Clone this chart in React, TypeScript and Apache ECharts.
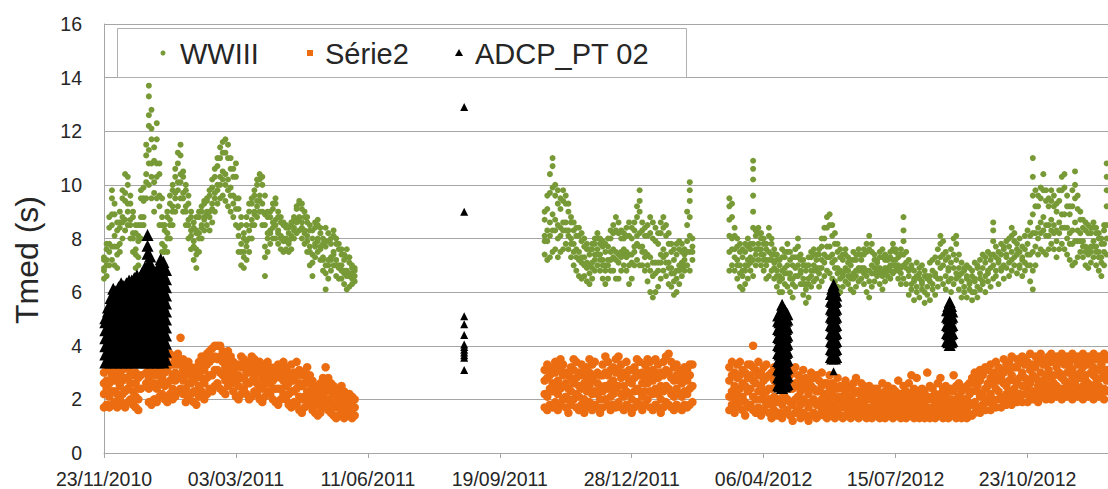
import React, { useEffect, useRef } from "react";
import * as echarts from "echarts";

// x values are days counted from 23/11/2010
const startDateUTC = Date.UTC(2010, 10, 23);
const xMin = 0;
const xMax = 761;
const xInterval = 100;
const yMin = 0;
const yMax = 16;
const yInterval = 2;
const seriesNames = ["WWIII", "Série2", "ADCP_PT 02"];
const yAxisTitle = "Tmed (s)";

// rows: [day, value, value, ...]
const wwiiiSeg1: number[][] = [
  [0,6.5,6.8,6.9,7.2,7.3],[2,6.6,7.0,7.2,7.6,7.8],[4,7.0,7.5,7.8,8.4,8.8],[6,7.2,7.7,8.5,8.9,9.5,9.8],
  [8,7.0,7.7,8.1,8.9,9.3],[10,6.9,7.4,7.7,8.3,8.6],[12,7.5,7.8,8.4,8.6,9.0],[14,8.0,8.6,8.8,9.5,9.8],
  [16,8.3,8.7,9.4,9.7,10.4],[18,8.5,9.0,9.3,10.0,10.3],[20,8.0,8.5,8.7,9.3,9.6],[22,7.5,8.0,8.2,8.8,9.0],
  [24,6.9,7.4,7.6,8.2,8.5],[26,7.0,7.3,7.9,8.1,8.5],[28,8.0,8.5,8.8,9.5,9.8],[30,8.5,8.8,9.4,9.5,9.9],
  [32,9.5,10.1,10.4,11.1,11.5],[34,10.0,10.8,11.3,12.2,12.6,13.3,13.7],[36,9.5,10.3,10.8,11.7,12.1,12.8],
  [38,9.0,9.7,10.1,10.9,11.4],[40,9.5,10.3,10.8,11.7,12.3],[42,8.5,9.2,9.6,10.4,10.8],[44,6.9,7.5,7.8,8.5,8.8,9.5],
  [46,7.0,7.5,7.7,8.3,8.5],[48,7.5,8.0,8.2,8.8,9.0],[50,8.0,8.5,8.7,9.3,9.6],[52,8.5,9.0,9.2,9.8,10.0],
  [54,9.0,9.5,9.7,10.3,10.6],[56,9.2,9.8,10.1,10.8,11.2],[58,9.5,10.1,10.4,11.1,11.5],[60,9.0,9.5,9.7,10.3,10.5],
  [62,8.5,9.0,9.2,9.8,10.0],[64,8.0,8.5,8.7,9.3,9.6],[66,7.6,8.1,8.3,8.8,9.0],[68,7.2,7.7,7.9,8.4,8.6],
  [70,6.9,7.4,7.6,8.2,8.3,8.8],[72,7.5,8.0,8.2,8.8,9.0],[74,8.0,8.4,8.5,9.0,9.2],[76,8.3,8.7,8.8,9.3,9.4],
  [78,8.5,8.9,9.0,9.4,9.5],[80,8.3,8.8,9.0,9.6,9.8],[82,8.6,9.1,9.3,9.9,10.2],[84,9.0,9.5,9.7,10.3,10.6],
  [86,9.3,9.8,10.0,10.7,11.0],[88,9.5,10.0,10.3,11.0,11.4],[90,9.6,10.2,10.5,11.2,11.6],[92,9.4,10.0,10.4,11.2,11.7],
  [94,9.2,9.8,10.2,11.0,11.5],[96,9.0,9.6,9.9,10.6,11.0],[98,8.8,9.3,9.6,10.3,10.6],[100,8.5,9.1,9.5,10.3,10.8],
  [102,7.5,8.1,8.4,9.1,9.5],[104,7.0,7.5,7.8,8.5,8.8],[106,6.9,7.3,7.5,8.0,8.2],[108,7.2,7.7,7.9,8.5,8.8],
  [110,7.5,8.0,8.3,9.0,9.3],[112,8.0,8.5,8.7,9.3,9.5],[114,8.5,8.9,9.0,9.6,9.8],[116,8.8,9.2,9.4,10.0,10.2],
  [118,9.0,9.4,9.6,10.2,10.4],[120,8.5,9.0,9.3,10.0,10.3],[122,6.6,7.3,7.7,8.5,8.9,9.6],[124,7.5,8.0,8.2,8.8,9.0],
  [126,7.8,8.2,8.3,8.8,9.0],[128,8.0,8.4,8.6,9.1,9.3],[130,8.0,8.5,8.7,9.3,9.5],[132,7.8,8.2,8.3,8.8,9.0],
  [134,7.6,8.0,8.1,8.6,8.8],[136,7.5,7.9,8.0,8.5,8.6],[138,7.6,7.9,8.0,8.4,8.5],[140,7.5,7.8,7.9,8.2,8.4],
  [142,7.6,8.0,8.1,8.5,8.6],[144,8.0,8.3,8.4,8.7,8.8],[146,8.2,8.6,8.7,9.1,9.2],[148,8.3,8.7,8.8,9.3,9.4],
  [150,8.0,8.4,8.6,9.1,9.3],[152,7.8,8.2,8.3,8.8,9.0],[154,7.5,7.9,8.1,8.6,8.8],[156,7.0,7.5,7.7,8.3,8.5],
  [158,6.6,7.1,7.4,8.0,8.3],[160,7.3,7.7,7.8,8.4,8.6],[162,7.5,7.9,8.0,8.5,8.7],[164,7.2,7.6,7.7,8.2,8.4],
  [166,6.8,7.2,7.3,7.8,8.0],[168,6.1,6.7,7.0,7.7,7.9,8.4],[170,6.5,7.0,7.2,7.9,8.2],[172,6.8,7.2,7.3,7.8,8.0],
  [174,7.0,7.4,7.5,8.1,8.3],[176,6.6,7.0,7.2,7.8,8.0],[178,6.5,6.9,7.0,7.6,7.8],[180,6.5,6.8,7.0,7.4,7.6],
  [182,6.3,6.7,6.8,7.2,7.4],[184,6.1,6.6,6.8,7.3,7.6],[186,6.2,6.6,6.7,7.1,7.3],[188,6.3,6.5,6.7,6.9,7.0],
  [190,6.4,6.6,6.8,6.9],
];
const wwiiiSeg2: number[][] = [
  [334,7.4,7.9,8.1,8.7,9.0],[336,7.2,7.9,8.3,9.1,9.6],[338,7.3,8.1,8.6,9.7,10.4],[340,7.5,8.3,8.9,9.9,10.7,11.0],
  [342,7.6,8.3,8.7,9.6,10.0],[344,7.3,8.0,8.5,9.3,9.8],[346,7.5,8.1,8.4,9.1,9.5],[348,7.6,8.3,8.6,9.4,9.8],
  [350,7.8,8.3,8.6,9.3,9.6],[352,7.6,8.1,8.3,9.0,9.3],[354,7.3,7.8,8.0,8.6,8.8],[356,7.0,7.5,7.8,8.3,8.6],
  [358,6.8,7.3,7.6,8.1,8.4],[360,6.6,7.2,7.5,8.1,8.4],[362,6.5,7.1,7.3,7.9,8.2],[364,6.6,7.0,7.3,7.7,8.0],
  [366,6.4,6.9,7.1,7.6,7.8],[368,6.3,6.7,7.0,7.4,7.6],[370,6.5,6.9,7.1,7.6,7.8],[372,6.8,7.2,7.4,7.8,8.0],
  [374,7.0,7.4,7.6,8.0,8.2],[376,6.8,7.2,7.4,7.8,8.0],[378,6.5,7.0,7.2,7.7,7.9],[380,6.3,6.8,7.0,7.5,7.8],
  [382,6.5,7.0,7.2,7.7,8.0],[384,6.8,7.2,7.5,8.0,8.3],[386,6.8,7.3,7.6,8.2,8.5],[388,6.5,7.2,7.5,8.3,8.8],
  [390,6.5,7.1,7.4,8.2,8.6],[392,6.8,7.3,7.5,8.0,8.3],[394,7.0,7.4,7.6,8.0,8.2],[396,6.8,7.3,7.5,8.1,8.4],
  [398,6.3,7.0,7.4,8.1,8.6],[400,6.5,7.1,7.4,8.0,8.4],[402,7.0,7.5,7.7,8.3,8.6],[404,7.2,7.8,8.1,8.8,9.2],
  [406,7.0,7.7,8.2,9.0,9.4,9.8],[408,7.0,7.5,7.7,8.3,8.6],[410,6.8,7.3,7.5,8.1,8.4],[412,6.4,7.0,7.4,8.1,8.5],
  [414,6.0,6.8,7.3,8.2,8.8],[416,5.8,6.6,7.1,8.0,8.6],[418,6.0,6.7,7.1,7.9,8.4],[420,6.2,6.8,7.1,7.8,8.2],
  [422,6.5,7.1,7.4,8.2,8.6],[424,6.8,7.3,7.6,8.4,8.8],[426,6.6,7.1,7.4,8.1,8.5],[428,6.3,6.9,7.1,7.8,8.2],
  [430,6.2,6.7,6.9,7.5,7.8],[432,5.9,6.4,6.7,7.2,7.6],[434,6.0,6.5,6.8,7.4,7.8],[436,6.3,6.8,7.0,7.6,7.9],
  [438,6.6,6.9,7.1,7.5,7.8],[440,6.8,7.0,7.2,7.4,7.6],[442,7.0,7.5,7.9,8.5,9.0],[444,6.8,7.5,8.1,8.8,9.4,9.8,10.1],
  [446,7.2,7.5,7.7,8.0],
];
const wwiiiSeg3: number[][] = [
  [474,6.8,7.5,8.1,8.7,9.2,9.5],[476,7.0,7.6,8.0,8.8,9.3],[478,6.8,7.3,7.6,8.1,8.4],[480,6.5,7.0,7.2,7.7,8.0],
  [482,6.2,6.7,7.0,7.5,7.8],[484,6.1,6.6,6.8,7.3,7.6],[486,6.3,6.8,7.0,7.5,7.8],[488,6.5,7.0,7.2,7.7,8.0],
  [490,6.8,7.1,7.3,7.6,7.8],[492,6.6,7.2,7.8,8.4,9.0,9.6,10.2,10.6,10.9],[494,7.0,7.4,7.6,8.1,8.3],
  [496,7.2,7.6,7.8,8.2,8.4],[498,7.0,7.4,7.6,8.0,8.2],[500,6.8,7.2,7.4,7.8,8.0],[502,6.5,7.0,7.2,7.6,7.8],
  [504,6.6,7.2,7.5,8.1,8.4],[506,6.8,7.2,7.4,7.8,8.0],[508,6.5,6.9,7.1,7.4,7.6],[510,6.2,6.6,6.8,7.2,7.4],
  [512,6.0,6.4,6.6,7.0,7.2],[514,6.0,6.5,6.8,7.3,7.6],[516,6.3,6.7,6.9,7.3,7.5],[518,6.2,6.7,7.0,7.5,7.8],
  [520,6.0,6.5,6.7,7.2,7.5],[522,5.8,6.3,6.5,7.0,7.3],[524,6.2,6.6,6.9,7.3,7.6],[526,6.6,7.0,7.3,7.7,8.0],
  [528,6.3,6.7,6.8,7.2,7.4],[530,5.9,6.3,6.5,7.0,7.2],[532,5.6,6.1,6.3,6.8,7.0],[534,5.8,6.3,6.5,7.0,7.3],
  [536,6.2,6.6,6.8,7.3,7.5],[538,6.4,6.8,7.0,7.4,7.6],[540,6.5,6.8,6.9,7.2,7.4],[542,6.2,6.7,6.9,7.4,7.6],
  [544,6.4,6.9,7.2,7.7,8.0],[546,6.6,7.1,7.4,8.0,8.4],[548,6.8,7.3,7.7,8.4,8.8],[550,6.7,7.3,7.7,8.5,8.9],
  [552,6.5,7.1,7.4,8.1,8.5],[554,6.4,6.9,7.2,7.8,8.2],[556,6.2,6.7,6.9,7.5,7.8],[558,6.0,6.5,6.8,7.3,7.6],
  [560,6.2,6.6,6.7,7.2,7.4],[562,6.4,6.8,6.9,7.4,7.6],[564,6.3,6.6,6.8,7.1,7.3],[566,6.1,6.5,6.6,7.0,7.2],
  [568,6.0,6.5,6.7,7.2,7.5],[570,6.2,6.6,6.8,7.2,7.4],[572,6.4,6.8,6.9,7.4,7.6],[574,6.5,6.8,6.9,7.2,7.4],
  [576,6.3,6.7,6.9,7.4,7.6],[578,6.0,6.6,6.8,7.5,7.8],[580,5.8,6.4,6.8,7.6,8.1],[582,6.2,6.7,7.0,7.5,7.8],
  [584,6.4,6.7,6.9,7.2,7.4],[586,6.6,6.8,6.9,7.1,7.2],[588,6.3,6.7,6.9,7.3,7.5],[590,6.1,6.6,6.8,7.3,7.6],
  [592,6.4,6.7,6.9,7.2,7.4],[594,6.6,6.8,6.9,7.2,7.3],[596,6.5,6.8,7.0,7.3,7.5],[598,6.7,7.0,7.2,7.6,7.8],
  [600,6.8,7.0,7.2,7.5,7.6],[602,6.5,6.8,7.0,7.3,7.4],[604,6.3,6.7,6.9,7.4,7.6],[606,6.5,7.0,7.4,7.9,8.3,8.8],
  [608,6.3,6.9,7.1,7.5],[610,5.9,6.6,6.8,7.2],[612,6.1,6.3,6.9,7.0],[614,5.7,6.4,6.5,6.8],
  [616,6.0,6.2,6.6,7.1],[618,5.8,6.5,6.7,6.9],[620,6.1,6.3,6.4,7.0],[622,5.6,6.0,6.6,6.8],
  [624,5.9,6.2,6.5,6.6],[626,5.7,6.4,6.6,7.1],[628,6.1,6.3,6.8,7.2],[630,5.9,6.6,6.7,7.3],
  [632,6.2,6.5,7.1,7.6],[634,6.5,6.9,7.3,7.8,8.1],[636,6.3,7.0,7.4,7.9],[638,6.1,6.6,7.2,7.5],
  [640,6.4,6.8,6.9,7.3],[642,6.0,6.5,7.1,7.6],[644,6.3,6.9,7.4,8.0],[646,6.5,6.7,7.2,7.8,8.1],
  [648,6.1,6.6,6.9,7.4],[650,5.8,6.4,6.7,7.1],[652,6.0,6.2,6.8,6.9],[654,5.8,6.5,6.6,7.0],
  [656,6.1,6.3,6.4,6.9],[658,5.7,6.0,6.6,6.8],[660,6.0,6.4,6.5,7.1],[662,5.8,6.2,6.9,7.0],
  [664,6.1,6.5,6.7,7.2],[666,6.3,6.4,6.9,7.4],[668,6.0,6.6,7.1,7.3],[670,6.4,6.7,6.8,7.5],
  [672,6.2,6.9,7.2,7.4],[674,6.5,7.0,7.4,7.9,8.3,8.6],[676,6.6,6.8,7.3,7.7],[678,6.3,7.1,7.2,7.5],
  [680,6.8,6.9,7.4,7.8],[682,6.5,7.0,7.6,7.7],[684,6.9,7.3,7.4,7.9],[686,6.6,7.1,7.7,8.0],
  [688,6.8,7.2,7.5,8.1,8.4],[690,7.0,7.3,7.9,8.2],[692,6.7,7.4,7.6,7.8],[694,6.9,7.0,7.5,8.0],
  [696,6.6,7.2,7.3,7.7],[698,6.8,7.1,7.6,8.1],[700,7.0,7.4,7.8,8.3],[702,6.4,7.0,7.4,8.1,8.6],
  [704,6.1,6.8,7.5,8.2,8.9,9.6,10.3,11.0],[706,7.0,7.7,8.2,9.2,9.8],[708,7.4,8.0,8.4,9.2,9.6],[710,7.6,8.2,8.6,9.5,9.9],
  [712,7.5,8.3,8.8,9.8,10.4],[714,7.4,8.1,8.5,9.4,9.8],[716,7.6,8.1,8.5,9.2,9.5],[718,7.8,8.3,8.7,9.4,9.8],
  [720,7.6,8.2,8.5,9.2,9.6],[722,7.3,7.9,8.3,9.0,9.3],[724,7.6,8.2,8.6,9.4,9.8],[726,7.8,8.4,8.9,9.8,10.3],
  [728,7.6,8.4,8.9,9.9,10.4],[730,7.4,8.0,8.4,9.2,9.6],[732,7.2,7.8,8.2,8.9,9.2],[734,7.0,7.8,8.3,9.2,9.8],
  [736,7.1,7.9,8.6,9.5,10.0,10.5],[738,7.3,7.9,8.3,9.1,9.6],[740,7.5,7.9,8.2,8.7,9.0],[742,7.3,7.7,7.9,8.4,8.7],
  [744,7.0,7.5,7.7,8.3,8.6],[746,6.9,7.4,7.6,8.2,8.5],[748,7.1,7.5,7.7,8.2,8.4],[750,7.3,7.7,7.9,8.4,8.6],
  [752,7.0,7.5,7.7,8.2,8.4],[754,6.8,7.3,7.5,8.0,8.2],[756,6.6,7.1,7.3,7.8,8.0],[758,7.0,7.5,7.8,8.3,8.5],
  [760,7.4,8.0,8.5,9.2,9.8,10.3,10.8],[762,7.5,8.1,8.7,9.6,10.4,11.4],
];

const serie2Seg1: number[][] = [
  [0,1.7,2.2,2.6,3.0],[2,1.8,2.4,2.7,3.2],[4,1.7,2.1,2.6,3.1],[6,1.8,2.3,2.9,3.3],[8,1.9,2.3,2.7,3.0],
  [10,1.7,2.2,2.8,3.2],[12,2.0,2.5,2.9,3.3],[14,1.8,2.2,2.7,3.1],[16,1.7,2.3,2.8,3.3],[18,1.9,2.4,2.8,3.2],
  [20,2.0,2.6,3.0,3.4],[22,1.8,2.3,2.9,3.3],[24,1.7,2.1,2.6,3.0],[26,1.6,2.0,2.4,2.8],[28,2.4,2.9],[32,2.6,3.0],
  [34,1.9,2.4,2.8,3.2],[36,1.8,2.5,2.9,3.4],[38,2.0,2.6,3.1,3.5],[40,1.9,2.4,2.9,3.3],[42,2.1,2.6,3.1,3.5],
  [44,2.2,2.8,3.2,3.6],[46,2.0,2.5,3.0,3.4],[48,1.9,2.6,3.1,3.6],[50,2.2,2.7,3.3,3.7],[52,2.0,2.4,2.9,3.3],
  [54,2.1,2.7,3.0,3.5],[56,2.3,2.8,3.3,3.7],[58,2.4,2.9,3.4,4.3],[60,2.2,2.7,3.1,3.5],[62,1.9,2.4,2.9,3.3],
  [64,2.0,2.6,3.0,3.4],[66,2.2,2.6,2.9,3.2],[68,1.9,2.3,2.7,3.0],[70,1.8,2.3,2.8,3.2],[72,2.1,2.5,3.0,3.4],
  [74,2.3,2.8,3.2,3.6],[76,2.0,2.6,3.1,3.5],[78,2.2,2.8,3.3,3.7],[80,2.4,2.9,3.4,3.8],[82,2.3,2.9,3.5,3.9],
  [84,2.5,3.1,3.6,4.0],[86,2.6,3.1,3.5,4.0],[88,2.4,3.0,3.6,4.0],[90,2.3,2.9,3.4,3.8],[92,2.2,2.7,3.2,3.6],
  [94,2.5,3.0,3.4,3.8],[96,2.6,2.9,3.3,3.6],[98,2.3,2.7,3.1,3.4],[100,2.1,2.6,2.9,3.2],[102,2.0,2.5,2.9,3.3],
  [104,2.2,2.8,3.2,3.6],[106,2.4,2.8,3.2,3.5],[108,2.2,2.6,3.0,3.3],[110,2.0,2.6,3.0,3.4],[112,2.1,2.7,3.2,3.6],
  [114,2.3,2.8,3.1,3.5],[116,2.2,2.6,3.0,3.3],[118,2.0,2.5,3.0,3.4],[120,1.9,2.4,2.8,3.2],[122,2.1,2.6,2.9,3.3],
  [124,2.3,2.7,3.1,3.4],[126,2.2,2.6,2.9,3.2],[128,2.0,2.4,2.7,3.0],[130,1.9,2.4,2.8,3.2],[132,1.8,2.4,2.9,3.3],
  [134,2.0,2.4,2.8,3.1],[136,2.2,2.7,3.0,3.4],[138,2.0,2.5,2.8,3.2],[140,1.8,2.2,2.6,3.0],[142,1.7,2.3,2.8,3.3],
  [144,1.9,2.3,2.7,3.0],[146,1.8,2.4,2.9,3.4],[148,1.6,2.1,2.6,3.1],[150,1.5,2.0,2.5,2.9],[152,1.7,2.1,2.6,3.0],
  [154,1.9,2.3,2.8,3.2],[156,1.8,2.2,2.6,2.9],[158,1.6,2.0,2.4,2.7],[160,1.5,1.9,2.2,2.5],[162,1.4,1.8,2.1,2.4],
  [164,1.5,1.9,2.3,2.6],[166,1.7,2.1,2.5,2.8],[168,1.8,2.3,2.7,3.2],[170,1.6,2.0,2.4,2.8],[172,1.5,1.9,2.3,2.6],
  [174,1.4,1.8,2.2,2.5],[176,1.3,1.7,2.1,2.4],[178,1.4,1.7,2.0,2.3],[180,1.5,1.8,2.2,2.5],[182,1.3,1.7,2.0,2.3],
  [184,1.4,1.7,2.0,2.2],[186,1.5,1.8,2.0,2.2],[188,1.3,1.6,1.9,2.1],[190,1.4,1.7,2.0],
];
const serie2Seg2: number[][] = [
  [334,1.7,2.2,2.7,3.1],[336,1.6,2.1,2.8,3.3],[338,1.8,2.4,2.9,3.2],[340,1.7,2.3,2.6,3.0],[342,1.9,2.5,3.0,3.4],
  [344,1.6,2.2,2.7,3.2],[346,1.8,2.4,3.1,3.5],[348,2.0,2.5,2.9,3.3],[350,1.7,2.1,2.6,3.0],[352,1.5,2.0,2.4,2.9],
  [354,1.8,2.3,2.8,3.2],[356,2.0,2.6,3.1,3.5],[358,1.7,2.2,2.8,3.4],[360,1.6,2.1,2.5,3.0],[362,1.8,2.4,2.9,3.3],
  [364,1.5,2.0,2.6,3.1],[366,1.7,2.3,2.8,3.2],[368,1.9,2.5,3.0,3.5],[370,1.6,2.2,2.7,3.3],[372,1.8,2.3,2.9,3.4],
  [374,1.7,2.2,2.6,3.0],[376,1.5,2.0,2.5,2.9],[378,1.7,2.3,2.9,3.3],[380,2.0,2.5,3.0,3.6],[382,1.8,2.4,2.9,3.4],
  [384,1.6,2.1,2.6,3.1],[386,1.8,2.2,2.7,3.2],[388,1.7,2.4,3.0,3.5],[390,1.9,2.5,3.1,3.6],[392,1.7,2.2,2.8,3.3],
  [394,1.6,2.1,2.5,3.0],[396,1.8,2.3,2.9,3.4],[398,1.7,2.2,2.7,3.1],[400,1.5,2.0,2.6,3.1],[402,1.7,2.3,2.8,3.2],
  [404,1.9,2.4,3.0,3.5],[406,1.8,2.3,2.9,3.4],[408,1.6,2.1,2.6,3.0],[410,1.8,2.3,2.8,3.3],[412,2.0,2.6,3.1,3.5],
  [414,1.7,2.3,2.9,3.4],[416,1.6,2.2,2.7,3.1],[418,1.8,2.4,3.0,3.5],[420,1.7,2.2,2.8,3.3],[422,1.5,2.0,2.5,3.0],
  [424,1.7,2.3,2.9,3.4],[426,1.9,2.5,3.1,3.6],[428,1.8,2.4,3.0,3.7],[430,1.7,2.2,2.8,3.4],[432,1.6,2.1,2.7,3.2],
  [434,1.8,2.4,2.9,3.3],[436,1.7,2.2,2.7,3.1],[438,1.6,2.1,2.6,3.0],[440,1.8,2.3,2.8,3.2],[442,1.7,2.2,2.7,3.1],
  [444,1.8,2.4,2.9,3.3],[446,1.9,2.5,3.3],
];
const serie2Seg3: number[][] = [
  [474,1.6,2.1,2.7,3.2],[476,1.8,2.3,2.9,3.4],[478,1.5,2.0,2.5,3.0],[480,1.7,2.2,2.8,3.3],[482,1.9,2.4,2.9,3.4],
  [484,1.6,2.1,2.6,3.1],[486,1.4,1.9,2.5,3.0],[488,1.7,2.3,2.8,3.3],[490,1.8,2.4,2.9,3.3],[492,1.6,2.1,2.7,3.2,4.0],
  [494,1.5,2.0,2.6,3.1],[496,1.7,2.3,2.9,3.4],[498,1.4,2.0,2.5,3.0],[500,1.6,2.2,2.7,3.2],[502,1.8,2.3,2.8,3.3],
  [504,1.5,2.0,2.4,2.9],[506,1.3,1.8,2.4,3.0],[508,1.6,2.1,2.7,3.2],[510,1.4,1.9,2.5,3.1],[512,1.5,2.0,2.6,3.2],
  [514,1.3,1.8,2.3,2.9],[516,1.5,2.1,2.7,3.2],[518,1.6,2.0,2.5,3.0],[520,1.4,1.9,2.4,2.9],[522,1.2,1.8,2.4,3.1],
  [524,1.5,2.0,2.6,3.2],[526,1.6,2.1,2.5,2.9],[528,1.3,1.8,2.3,2.8],[530,1.5,2.0,2.6,3.1],[532,1.4,1.9,2.4,2.8],
  [534,1.2,1.7,2.2,2.7],[536,1.4,1.9,2.5,3.0],[538,1.5,2.0,2.4,2.8],[540,1.3,1.8,2.3,2.9],[542,1.4,1.8,2.3,2.7],
  [544,1.6,2.0,2.5,3.0],[546,1.4,1.8,2.2,2.6],[548,1.3,1.7,2.1,2.6],[550,1.5,1.9,2.4,2.9],[552,1.4,1.8,2.2,2.6],
  [554,1.3,1.7,2.1,2.5],[556,1.5,1.9,2.4,2.8],[558,1.4,1.8,2.1,2.5],[560,1.3,1.7,2.0,2.4],[562,1.4,1.8,2.2,2.7],
  [564,1.5,1.8,2.1,2.5],[566,1.3,1.6,2.0,2.4],[568,1.4,1.8,2.2,2.6],[570,1.5,1.9,2.3,2.8],[572,1.3,1.6,1.9,2.3],
  [574,1.4,1.7,2.1,2.6],[576,1.5,1.8,2.2,2.5],[578,1.3,1.6,2.0,2.4],[580,1.4,1.7,2.1,2.5],[582,1.3,1.7,2.0,2.3],
  [584,1.5,1.8,2.1,2.4],[586,1.4,1.7,2.0,2.4],[588,1.3,1.6,1.9,2.2],[590,1.4,1.7,2.1,2.6],[592,1.3,1.6,1.9,2.3],
  [594,1.4,1.8,2.2,2.5],[596,1.5,1.8,2.1,2.4],[598,1.3,1.6,2.0,2.4],[600,1.4,1.7,2.0,2.3],[602,1.5,1.8,2.2,2.7],
  [604,1.3,1.6,1.9,2.2],[606,1.4,1.7,2.1,2.5],[608,1.3,1.6,1.9,2.3],[610,1.4,1.7,2.0,2.6],[612,1.5,1.8,2.2,2.9],
  [614,1.3,1.6,2.0,2.4],[616,1.4,1.8,2.3,2.8],[618,1.3,1.6,1.9,2.2],[620,1.4,1.7,2.0,2.4],[622,1.3,1.6,1.9,2.3],
  [624,1.4,1.7,2.1,3.0],[626,1.3,1.6,2.0,2.5],[628,1.4,1.7,2.1,2.4],[630,1.3,1.6,1.9,2.2],[632,1.4,1.7,2.1,2.6],
  [634,1.5,1.8,2.2,2.8],[636,1.3,1.6,2.0,2.4],[638,1.4,1.8,2.2,2.5],[640,1.3,1.6,1.9,2.3],[642,1.4,1.7,2.0,2.4],
  [644,1.5,1.8,2.3,2.9],[646,1.3,1.6,2.0,2.5],[648,1.4,1.7,2.1,2.6],[650,1.3,1.6,1.9,2.3],[652,1.4,1.7,2.0,2.4],
  [654,1.3,1.6,2.0,2.5],[656,1.4,1.8,2.2,2.6],[658,1.4,1.8,2.3,2.8],
  [660,1.5,1.9,2.6,3.0],[662,1.7,2.3,2.5,2.8],[664,1.5,2.1,2.7,3.1],[666,1.8,2.2,2.9,3.0],[668,1.6,2.0,2.4,3.2],
  [670,1.9,2.5,2.6,3.1],[672,1.6,2.2,2.8,3.3],[674,1.8,2.0,2.6,3.0],[676,1.7,2.4,2.9,3.4],[678,2.0,2.3,2.7,3.2],
  [680,1.7,2.1,2.8,3.1],[682,1.9,2.6,3.0,3.5],[684,1.8,2.2,2.5,3.3],[686,2.0,2.7,3.1,3.4],[688,1.8,2.3,2.9,3.6],
  [690,2.1,2.4,2.7,3.2],[692,1.9,2.6,3.2,3.5],[694,2.0,2.2,2.8,3.4],[696,1.9,2.5,3.0,3.6],[698,2.2,2.8,3.3,3.5],
  [700,1.9,2.4,2.7,3.4],[702,2.1,2.6,3.1,3.7],[704,2.0,2.3,2.9,3.3],[706,2.2,2.8,3.2,3.6],[708,1.9,2.5,2.7,3.4],
  [710,2.1,2.4,3.0,3.7],[712,2.3,2.7,3.3,3.5],[714,2.0,2.6,2.9,3.3],[716,2.2,2.4,3.1,3.6],[718,2.0,2.8,3.4,3.7],
  [720,2.3,2.6,2.9,3.5],[722,2.1,2.5,3.2,3.6],[724,2.2,2.9,3.0,3.4],[726,2.0,2.4,2.8,3.7],[728,2.3,2.7,3.3,3.5],
  [730,2.1,2.6,3.0,3.6],[732,2.2,2.5,3.2,3.4],[734,2.0,2.8,3.1,3.7],[736,2.3,2.6,2.9,3.5],[738,2.1,2.4,3.3,3.6],
  [740,2.2,2.8,3.0,3.4],[742,2.0,2.5,3.2,3.7],[744,2.3,2.7,2.9,3.5],[746,2.1,2.6,3.3,3.6],[748,2.2,2.4,3.0,3.4],
  [750,2.0,2.9,3.2,3.7],[752,2.3,2.6,2.8,3.5],[754,2.1,2.5,3.1,3.6],[756,2.2,2.8,3.3,3.4],[758,2.0,2.4,2.9,3.7],
  [760,2.3,2.7,3.1,3.5],[762,2.1,2.6,3.2,3.6],
];

// dense ADCP bursts (drawn as solid blocks of triangles)
const adcpBlock: number[][] = [
  [1,3.35,3.65,3.95,4.25,4.55,4.85,5.0],
  [3,3.45,3.75,4.05,4.35,4.65,4.95,5.25,5.4],
  [5,3.35,3.65,3.95,4.25,4.55,4.85,5.15,5.45,5.75],
  [7,3.45,3.75,4.05,4.35,4.65,4.95,5.25,5.55,5.85,6.1],
  [9,3.35,3.65,3.95,4.25,4.55,4.85,5.15,5.45,5.75,6.0],
  [11,3.45,3.75,4.05,4.35,4.65,4.95,5.25,5.55,5.85,6.15],
  [13,3.35,3.65,3.95,4.25,4.55,4.85,5.15,5.45,5.75,6.05,6.3],
  [15,3.45,3.75,4.05,4.35,4.65,4.95,5.25,5.55,5.85,6.2],
  [17,3.35,3.65,3.95,4.25,4.55,4.85,5.15,5.45,5.75,6.05,6.3],
  [19,3.45,3.75,4.05,4.35,4.65,4.95,5.25,5.55,5.85,6.15,6.4],
  [21,3.35,3.65,3.95,4.25,4.55,4.85,5.15,5.45,5.75,6.05,6.4],
  [23,3.45,3.75,4.05,4.35,4.65,4.95,5.25,5.55,5.85,6.15,6.5],
  [25,3.35,3.65,3.95,4.25,4.55,4.85,5.15,5.45,5.75,6.05,6.35,6.6],
  [27,3.45,3.75,4.05,4.35,4.65,4.95,5.25,5.55,5.85,6.15,6.5],
  [29,3.35,3.65,3.95,4.25,4.55,4.85,5.15,5.45,5.75,6.05,6.35,6.7],
  [31,3.45,3.75,4.05,4.35,4.65,4.95,5.25,5.55,5.85,6.15,6.45,6.9],
  [33,3.35,3.65,3.95,4.25,4.55,4.85,5.15,5.45,5.75,6.05,6.35,6.65,6.95,7.4,7.7,8.1],
  [35,3.45,3.75,4.05,4.35,4.65,4.95,5.25,5.55,5.85,6.15,6.45,6.75,7.05,7.3],
  [37,3.35,3.65,3.95,4.25,4.55,4.85,5.15,5.45,5.75,6.05,6.35,6.8],
  [39,3.45,3.75,4.05,4.35,4.65,4.95,5.25,5.55,5.85,6.15,6.5],
  [41,3.35,3.65,3.95,4.25,4.55,4.85,5.15,5.45,5.75,6.05,6.35,6.65,6.9],
  [43,3.45,3.75,4.05,4.35,4.65,4.95,5.25,5.55,5.85,6.15,6.45,6.75,7.0,7.2],
  [45,3.35,3.65,3.95,4.25,4.55,4.85,5.15,5.45,5.75,6.05,6.35,6.65,6.9,7.1],
  [47,3.45,3.75,4.05,4.35,4.65,4.95,5.25,5.55,5.85,6.15,6.45,6.8],
];
const adcpSpikes: number[][] = [
  [511,2.5,2.8,3.1,3.4,3.7,4.0,4.3,4.6,4.9,5.1],
  [512,2.45,2.75,3.05,3.35,3.65,3.95,4.25,4.55,4.85,5.15],
  [514,2.4,2.7,3.0,3.3,3.6,3.9,4.2,4.5,4.8,5.1,5.35,5.5],
  [516,2.45,2.75,3.05,3.35,3.65,3.95,4.25,4.55,4.85,5.15,5.3],
  [517,2.5,2.8,3.1,3.4,3.7,4.0,4.3,4.6,4.9,5.2],
  [518,2.55,2.85,3.15,3.45,3.75,4.05,4.35,4.65,4.95,5.15],
  [551,3.55,3.85,4.15,4.45,4.75,5.05,5.35,5.65,5.9],
  [552,3.5,3.8,4.1,4.4,4.7,5.0,5.3,5.6,5.9,6.1],
  [553,3.55,3.85,4.15,4.45,4.75,5.05,5.35,5.65,5.95,6.25],
  [554,3.5,3.8,4.1,4.4,4.7,5.0,5.3,5.6,5.9,6.05],
  [555,3.55,3.85,4.15,4.45,4.75,5.05,5.35,5.65,5.85],
  [639,4.15,4.45,4.75,5.05,5.3],
  [640,4.1,4.4,4.7,5.0,5.3,5.45],
  [641,4.0,4.25,4.55,4.85,5.15,5.45,5.6],
  [642,4.1,4.4,4.7,5.0,5.3,5.45],
  [643,4.15,4.45,4.75,5.05,5.25],
];
// isolated ADCP points
const adcpIsolated: number[][] = [
  [273,3.1,3.55,3.65,3.75,3.85,3.95,4.05,4.4,4.8,5.1,9.0,12.9],
  [553,3.05],
];

const GREEN = "#779a37";
const ORANGE = "#ec6d11";
const BLACK = "#000000";
const FONT = "'Liberation Sans', Arial, sans-serif";

const toPoints = (rows: number[][]) =>
  rows.flatMap((r) => r.slice(1).map((v) => [r[0], v]));

const fmtDate = (day: number) => {
  const d = new Date(startDateUTC + Math.round(day) * 86400000);
  const dd = String(d.getUTCDate()).padStart(2, "0");
  const mm = String(d.getUTCMonth() + 1).padStart(2, "0");
  return `${dd}/${mm}/${d.getUTCFullYear()}`;
};

export default function App() {
  const ref = useRef<HTMLDivElement>(null);
  useEffect(() => {
    if (!ref.current) return;
    const chart = echarts.init(ref.current, undefined, { renderer: "svg" });
    const legendY = 53;
    chart.setOption({
      animation: false,
      backgroundColor: "#ffffff",
      grid: { left: 104, right: 0, top: 24, bottom: 36, containLabel: false },
      xAxis: {
        type: "value",
        min: xMin,
        max: xMax,
        interval: xInterval,
        splitLine: { show: false },
        axisLine: { show: true, lineStyle: { color: "#a6a6a6", width: 1 } },
        axisTick: { show: true, length: 5, lineStyle: { color: "#a6a6a6" } },
        axisLabel: {
          formatter: fmtDate,
          fontSize: 19.5,
          fontFamily: FONT,
          color: "#262626",
          margin: 16,
          showMaxLabel: false,
        },
      },
      yAxis: {
        type: "value",
        min: yMin,
        max: yMax,
        interval: yInterval,
        axisLine: { show: true, lineStyle: { color: "#a6a6a6", width: 1 } },
        axisTick: { show: false },
        splitLine: { show: true, lineStyle: { color: "#a6a6a6", width: 1 } },
        axisLabel: { fontSize: 19.5, fontFamily: FONT, color: "#262626", margin: 22 },
      },
      series: [
        {
          name: seriesNames[0],
          type: "scatter",
          symbol: "circle",
          symbolSize: 6,
          itemStyle: { color: GREEN, opacity: 1 },
          data: [...toPoints(wwiiiSeg1), ...toPoints(wwiiiSeg2), ...toPoints(wwiiiSeg3)],
          silent: true,
        },
        {
          name: seriesNames[1],
          type: "scatter",
          symbol: "circle",
          symbolSize: 8.5,
          itemStyle: { color: ORANGE, opacity: 1 },
          data: [...toPoints(serie2Seg1), ...toPoints(serie2Seg2), ...toPoints(serie2Seg3)],
          silent: true,
        },
        {
          name: seriesNames[2],
          type: "scatter",
          symbol: "triangle",
          symbolSize: 8,
          itemStyle: { color: BLACK, borderColor: BLACK, borderWidth: 2.5, opacity: 1 },
          data: [...toPoints(adcpBlock), ...toPoints(adcpSpikes)],
          silent: true,
        },
        {
          name: seriesNames[2],
          type: "scatter",
          symbol: "triangle",
          symbolSize: 8,
          itemStyle: { color: BLACK, opacity: 1 },
          data: toPoints(adcpIsolated),
          silent: true,
        },
      ],
      graphic: [
        {
          type: "rect",
          z: 100,
          shape: { x: 117.5, y: 28.5, width: 569, height: 49 },
          style: { fill: "#ffffff", stroke: "#b0b0b0", lineWidth: 1 },
        },
        { type: "circle", z: 101, shape: { cx: 163, cy: legendY, r: 2.5 }, style: { fill: GREEN } },
        {
          type: "text", z: 101, x: 180, y: legendY + 1,
          style: { text: seriesNames[0], font: `29px ${FONT}`, fill: "#262626", textVerticalAlign: "middle" },
        },
        { type: "rect", z: 101, shape: { x: 307, y: legendY - 3, width: 6, height: 6 }, style: { fill: ORANGE } },
        {
          type: "text", z: 101, x: 325, y: legendY + 1,
          style: { text: seriesNames[1], font: `29px ${FONT}`, fill: "#262626", textVerticalAlign: "middle" },
        },
        {
          type: "polygon", z: 101,
          shape: { points: [[459, legendY - 4], [463, legendY + 3], [455, legendY + 3]] },
          style: { fill: BLACK },
        },
        {
          type: "text", z: 101, x: 475, y: legendY + 1,
          style: { text: seriesNames[2], font: `29px ${FONT}`, fill: "#262626", textVerticalAlign: "middle" },
        },
        {
          type: "text", z: 101, x: 27, y: 260, rotation: Math.PI / 2,
          style: {
            text: yAxisTitle, font: `32px ${FONT}`, fill: "#262626",
            textAlign: "center", textVerticalAlign: "middle",
          },
        },
      ],
    });
    return () => chart.dispose();
  }, []);
  return (
    <div
      ref={ref}
      style={{ position: "absolute", left: 0, top: 0, width: 1108, height: 489 }}
    />
  );
}
